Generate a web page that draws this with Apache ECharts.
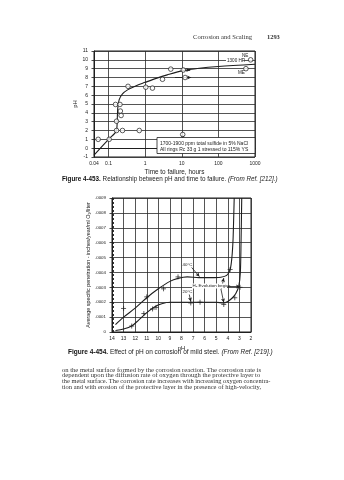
<!DOCTYPE html>
<html><head><meta charset="utf-8">
<script src="https://cdn.jsdelivr.net/npm/echarts@6/dist/echarts.min.js"></script>
<style>html,body{margin:0;padding:0;background:#fff}#c{width:344px;height:480px}</style>
</head><body><div id="c"></div>
<script>
// ---------- Figure 4-453 : pH vs time to failure ----------
const fig1TimeTickLabels = ['0.04', '0.1', '1', '10', '100', '1000'];
const fig1PhTickLabels = ['-1','0','1','2','3','4','5','6','7','8','9','10','11'];
const fig1CircleTime = [0.052, 0.104, 0.165, 0.24, 0.69, 0.165, 0.21, 0.22, 0.155, 0.205, 0.34, 1.04, 1.58, 2.97, 5.0, 10.6, 12.3, 11.0, 565, 760];
const fig1CirclePh   = [1, 1, 2, 2, 2, 3.05, 4.2, 3.7, 4.95, 4.95, 7, 6.9, 6.8, 7.8, 8.95, 1.55, 8.0, 8.85, 9.0, 10.0];
const fig1CurveTime = [0.04, 0.1, 0.165, 0.172, 0.178, 0.195, 0.24, 0.33, 0.55, 1, 2, 4, 10, 30, 100, 1000];
const fig1CurvePh   = [-0.8, 1, 2, 3, 4.5, 5.5, 6.15, 6.6, 7.05, 7.45, 7.9, 8.3, 8.75, 9.05, 9.25, 9.5];

// ---------- Figure 4-454 : effect of pH on corrosion ----------
const fig2PhTickLabels = ['14','13','12','11','10','9','8','7','6','5','4','3','2'];
const fig2RateTickLabels = ['0','.0001','.0002','.0003','.0004','.0005','.0006','.0007','.0008','.0009'];
const c40Ph   = [13.7, 13, 12, 11, 10, 9, 8.3, 7.5, 6.5, 5.5, 4.6, 4.1, 3.8, 3.65, 3.55, 3.5, 3.45];
const c40Rate = [0.00005, 0.0001, 0.00016, 0.00023, 0.00029, 0.00034, 0.00036, 0.00037, 0.000365, 0.000365, 0.000368, 0.00038, 0.00042, 0.0005, 0.00062, 0.00075, 0.0009];
const c20Ph   = [13.7, 13, 12.3, 11.7, 11, 10.3, 9.7, 9, 8, 7, 6, 5, 4.4, 4.0, 3.6, 3.3, 3.05, 2.92, 2.86, 2.8];
const c20Rate = [0.00001, 0.00002, 0.00004, 0.00008, 0.00013, 0.00017, 0.00019, 0.0002, 0.0002, 0.0002, 0.0002, 0.0002, 0.000195, 0.000205, 0.00023, 0.00026, 0.00031, 0.0004, 0.0006, 0.0009];
const m40Ph   = [13.0, 11.0, 9.55, 8.3, 3.8];
const m40Rate = [0.000158, 0.000236, 0.00029, 0.00037, 0.00042];
const m20Ph   = [12.3, 11.25, 10.5, 10.2, 7.2, 6.4, 4.35, 3.4, 2.95];
const m20Rate = [0.00004, 0.000124, 0.000155, 0.000165, 0.000195, 0.0002, 0.000185, 0.00023, 0.0003];

const ink = '#1e1e1e';
const sans = '"Liberation Sans", Arial, sans-serif';
const serif = '"Liberation Serif", "Times New Roman", serif';
const plus = 'path://M5,0L5,10M0,5L10,5';

const chart = echarts.init(document.getElementById('c'), null, {renderer: 'canvas'});

function zipPts(xs, ys) { return xs.map((x, i) => [x, ys[i]]); }
function fmtTime(v) {
  const k = fig1TimeTickLabels.findIndex(s => Math.abs(Math.log10(parseFloat(s)) - Math.log10(v)) < 1e-3);
  return k >= 0 ? fig1TimeTickLabels[k] : '';
}
function fmtRate(v) { return fig2RateTickLabels[Math.round(v / 0.0001)] || ''; }
function fmtPh2(v) { return fig2PhTickLabels[Math.round(14 - v)] || ''; }
function fmtPh1(v) { return fig1PhTickLabels[Math.round(v + 1)] || ''; }

const split = {show: true, lineStyle: {color: '#2a2a2a', width: 0.8}};
const axLine = {show: true, lineStyle: {color: ink, width: 1}};
const lbl = {color: '#222', fontFamily: sans, fontSize: 5};

const arrowML = (pairs, syms) => ({
  silent: true, symbol: syms || ['none', 'arrow'], symbolSize: [3, 4],
  label: {show: false}, lineStyle: {color: ink, width: 0.8, type: 'solid'},
  data: pairs.map(p => [{coord: p[0]}, {coord: p[1]}])
});

const option = {
  animation: false,
  backgroundColor: '#fff',
  grid: [
    {left: 94, top: 51, width: 161, height: 106, show: true, borderColor: ink, borderWidth: 1, backgroundColor: 'transparent'},
    {left: 112, top: 198, width: 139, height: 134, show: true, borderColor: ink, borderWidth: 1, backgroundColor: 'transparent'}
  ],
  xAxis: [
    {gridIndex: 0, type: 'log', logBase: 10, min: 0.04, max: 1000,
     axisLine: axLine, axisTick: {show: false}, splitLine: split,
     axisLabel: Object.assign({}, lbl, {margin: 4, formatter: fmtTime, showMinLabel: true, showMaxLabel: true}),
     name: 'Time to failure, hours', nameLocation: 'middle', nameGap: 12.5,
     nameTextStyle: {fontFamily: '"Liberation Sans Narrow", ' + sans, fontSize: 6.4, color: '#222'}},
    {gridIndex: 1, type: 'value', inverse: true, min: 2, max: 14, interval: 1,
     axisLine: axLine, axisTick: {show: false}, splitLine: split,
     axisLabel: Object.assign({}, lbl, {margin: 4, formatter: fmtPh2}),
     name: 'pH', nameLocation: 'middle', nameGap: 13,
     nameTextStyle: {fontFamily: sans, fontSize: 5.8, color: '#222'}}
  ],
  yAxis: [
    {gridIndex: 0, type: 'value', min: -1, max: 11, interval: 1,
     axisLine: axLine, axisTick: {show: true, length: 2.5, lineStyle: {color: ink, width: 0.8}}, splitLine: split,
     axisLabel: Object.assign({}, lbl, {margin: 6, formatter: fmtPh1}),
     name: 'pH', nameLocation: 'middle', nameGap: 14, nameRotate: 90,
     nameTextStyle: {fontFamily: sans, fontSize: 5.8, color: '#222'}},
    {gridIndex: 1, type: 'value', min: 0, max: 0.0009, interval: 0.0001,
     axisLine: axLine, axisTick: {show: true, length: 2.5, lineStyle: {color: ink, width: 0.8}}, splitLine: split,
     axisLabel: Object.assign({}, lbl, {margin: 6, fontSize: 4.4, formatter: fmtRate}),
     name: 'Average specific penetration - inches/year/ml O\u2082/liter', nameLocation: 'middle', nameGap: 21, nameRotate: 90,
     nameTextStyle: {fontFamily: sans, fontSize: 5.4, color: '#222'}}
  ],
  series: [
    {type: 'line', xAxisIndex: 0, yAxisIndex: 0, data: zipPts(fig1CurveTime, fig1CurvePh),
     smooth: 0.3, showSymbol: false, symbol: 'none', lineStyle: {color: ink, width: 1.1}, z: 3},
    {type: 'scatter', xAxisIndex: 0, yAxisIndex: 0, data: zipPts(fig1CircleTime, fig1CirclePh),
     symbol: 'circle', symbolSize: 4.6, itemStyle: {color: '#fff', borderColor: ink, borderWidth: 0.9}, z: 5,
     markLine: arrowML([
       [[480, 10], [1350, 10]],
       [[565, 9], [1250, 9]],
       [[11, 8.85], [17, 8.85]],
       [[6.5, 8.0], [18, 8.0]],
       [[10.6, 1.5], [10.6, 1.05]]
     ])},
    {type: 'line', xAxisIndex: 1, yAxisIndex: 1, data: zipPts(c40Ph, c40Rate),
     smooth: 0.3, showSymbol: false, symbol: 'none', lineStyle: {color: ink, width: 1.1}, z: 3},
    {type: 'line', xAxisIndex: 1, yAxisIndex: 1, data: zipPts(c20Ph, c20Rate),
     smooth: 0.3, showSymbol: false, symbol: 'none', lineStyle: {color: ink, width: 1.1}, z: 3},
    {type: 'scatter', xAxisIndex: 1, yAxisIndex: 1, data: zipPts(m40Ph, m40Rate),
     symbol: plus, symbolSize: 5, itemStyle: {color: 'none', borderColor: ink, borderWidth: 0.9}, z: 5},
    {type: 'scatter', xAxisIndex: 1, yAxisIndex: 1, data: zipPts(m20Ph, m20Rate),
     symbol: plus, symbolSize: 5, itemStyle: {color: 'none', borderColor: ink, borderWidth: 0.9}, z: 5,
     markLine: arrowML([
       [[7.2, 0.00044], [6.45, 0.000372]],
       [[7.35, 0.00026], [7.2, 0.000205]],
       [[4.55, 0.00029], [4.35, 0.000362]],
       [[4.6, 0.00029], [4.35, 0.000198]],
       [[4.05, 0.000306], [2.95, 0.000306]]
     ])},
    {type: 'scatter', xAxisIndex: 1, yAxisIndex: 1, data: [], silent: true,
     markLine: {silent: true, symbol: ['none', 'none'], label: {show: false},
       lineStyle: {color: ink, width: 0.9, type: [2, 2]},
       data: [[{coord: [13.85, 0]}, {coord: [13.85, 0.0009]}]]}}
  ],
  graphic: [
    {type: 'text', x: 193, y: 37, style: {text: 'Corrosion and Scaling', font: '6.6px ' + serif, fill: '#333', verticalAlign: 'middle'}},
    {type: 'text', x: 267, y: 37, style: {text: '1293', font: 'bold 6.4px ' + serif, fill: '#333', verticalAlign: 'middle'}},
    // legend box of fig 1
    {type: 'rect', z: 50, shape: {x: 157, y: 137.5, width: 98, height: 16}, style: {fill: '#fff', stroke: ink, lineWidth: 0.8}},
    {type: 'text', z: 51, x: 160, y: 144, style: {text: '1700-1900 ppm total sulfide in 5% NaCl', font: '5px ' + sans, fill: '#222', verticalAlign: 'middle'}},
    {type: 'text', z: 51, x: 160, y: 150, style: {text: 'All rings Rc 33 g 1 stressed to 115% YS', font: '5px ' + sans, fill: '#222', verticalAlign: 'middle'}},
    {type: 'rect', z: 52, shape: {x: 226, y: 57.5, width: 18, height: 6}, style: {fill: '#fff'}},
    {type: 'text', z: 53, x: 227, y: 60.5, style: {text: '1300 HR', font: '4.6px ' + sans, fill: '#222', verticalAlign: 'middle'}},
    {type: 'text', z: 53, x: 242, y: 55.5, style: {text: 'NE', font: '4.6px ' + sans, fill: '#222', verticalAlign: 'middle'}},
    {type: 'text', z: 53, x: 238, y: 72.5, style: {text: 'ME', font: '4.6px ' + sans, fill: '#222', verticalAlign: 'middle'}},
    {type: 'text', x: 62, y: 179, style: {
      text: '{b|Figure 4-453.} Relationship between pH and time to failure. {i|(From Ref. [212].)}',
      font: '6.3px ' + sans, fill: '#222', verticalAlign: 'middle',
      rich: {b: {fontWeight: 'bold', fontFamily: sans, fontSize: 6.3, fill: '#111'}, i: {fontStyle: 'italic', fontFamily: sans, fontSize: 6.3}}}},
    // fig 2 annotations
    {type: 'rect', z: 52, shape: {x: 182, y: 262.5, width: 11, height: 5}, style: {fill: '#fff'}},
    {type: 'text', z: 53, x: 182.5, y: 265, style: {text: '40\u00b0C', font: '4.4px ' + sans, fill: '#222', verticalAlign: 'middle'}},
    {type: 'rect', z: 52, shape: {x: 192, y: 283.5, width: 35, height: 5}, style: {fill: '#fff'}},
    {type: 'text', z: 53, x: 192.5, y: 286, style: {text: 'H\u2082 Evolution begins', font: '4.4px ' + sans, fill: '#222', verticalAlign: 'middle'}},
    {type: 'rect', z: 52, shape: {x: 182, y: 289.5, width: 11, height: 5}, style: {fill: '#fff'}},
    {type: 'text', z: 53, x: 182.5, y: 292, style: {text: '20\u00b0C', font: '4.4px ' + sans, fill: '#222', verticalAlign: 'middle'}},
    {type: 'text', x: 68, y: 352.5, style: {
      text: '{b|Figure 4-454.} Effect of pH on corrosion of mild steel. {i|(From Ref. [219].)}',
      font: '6.5px ' + sans, fill: '#222', verticalAlign: 'middle',
      rich: {b: {fontWeight: 'bold', fontFamily: sans, fontSize: 6.5, fill: '#111'}, i: {fontStyle: 'italic', fontFamily: sans, fontSize: 6.5}}}},
    // body text
    {type: 'text', x: 62, y: 370, style: {text: 'on the metal surface formed by the corrosion reaction. The corrosion rate is', font: '6.6px ' + serif, fill: '#333', verticalAlign: 'middle'}},
    {type: 'text', x: 62, y: 375.7, style: {text: 'dependent upon the diffusion rate of oxygen through the protective layer to', font: '6.6px ' + serif, fill: '#333', verticalAlign: 'middle'}},
    {type: 'text', x: 62, y: 381.3, style: {text: 'the metal surface. The corrosion rate increases with increasing oxygen concentra-', font: '6.4px ' + serif, fill: '#333', verticalAlign: 'middle'}},
    {type: 'text', x: 62, y: 387, style: {text: 'tion and with erosion of the protective layer in the presence of high-velocity,', font: '6.5px ' + serif, fill: '#333', verticalAlign: 'middle'}}
  ]
};
chart.setOption(option);
</script>
</body></html>
